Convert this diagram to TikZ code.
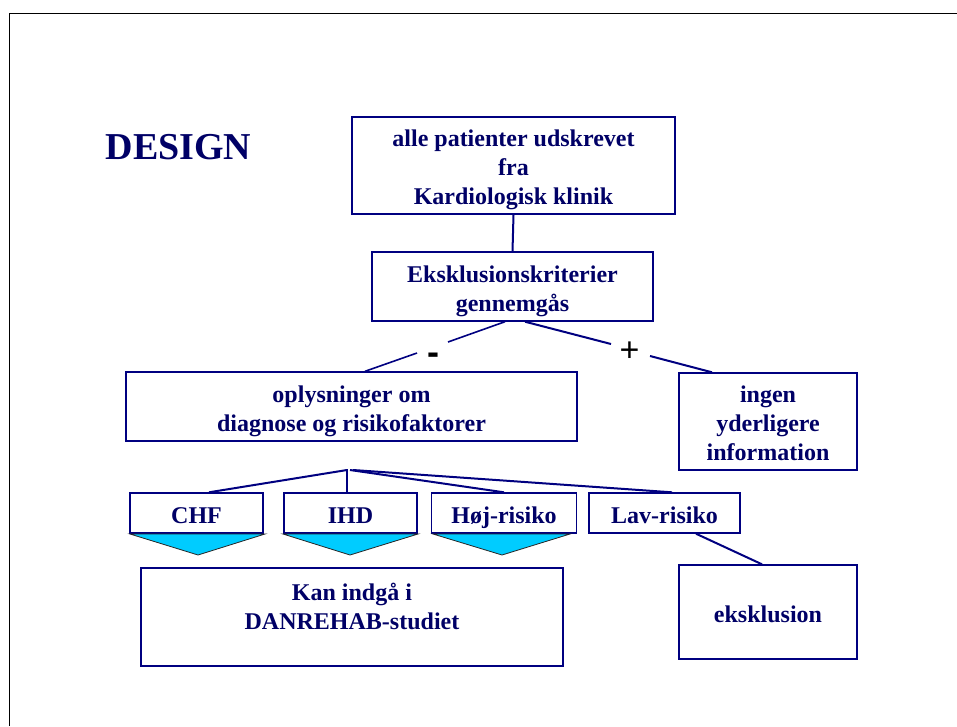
\documentclass[tikz,border=0pt]{standalone}
\usepackage{fontspec}
\setmainfont{Liberation Serif}
\newfontfamily\arialf{Liberation Sans}
\definecolor{navy}{HTML}{000080}
\definecolor{tnavy}{HTML}{000066}
\definecolor{cyanf}{HTML}{00CCFF}
\newcommand{\tstrut}{\rule[-5.5pt]{0pt}{31.5pt}}
\newcommand{\bstrut}{\rule[-5.5pt]{0pt}{5.5pt}}
\begin{document}
\begin{tikzpicture}[x=1pt,y=-1pt,
  box/.style={draw=navy,line width=1.4pt,inner sep=0pt,text=tnavy,align=center,
    font=\bfseries\fontsize{24}{29}\selectfont},
  conn/.style={draw=navy,line width=2pt},
  tri/.style={fill=cyanf,draw=black!85,line width=0.8pt,line join=miter},
  sign/.style={text=black,inner sep=0pt}]
\useasboundingbox (0,0) rectangle (957,726);
% frame
\coordinate (fA) at (9,726);
\coordinate (fB) at (9,13);
\coordinate (fC) at (957,13);
\draw[black,line width=1pt] (fA) -- (fB) -- (fC);
% title
\node[text=tnavy,font=\bfseries\fontsize{38}{42}\selectfont,inner sep=0pt,anchor=base] (title) at (178.5,159) {DESIGN};
% boxes
\node[box,minimum width=323,minimum height=97] (b1) at (513.5,165.5) {\tstrut alle patienter udskrevet\\fra\\Kardiologisk klinik\bstrut};
\node[box,minimum width=281,minimum height=69] (b2) at (512.5,286.5) {\tstrut Eksklusionskriterier\\gennemgås\bstrut};
\node[box,minimum width=451,minimum height=69] (b3) at (351.5,406.5) {\tstrut oplysninger om\\diagnose og risikofaktorer\bstrut};
\node[box,minimum width=178,minimum height=97] (b4) at (768,421.5) {\tstrut ingen\\yderligere\\information\bstrut};
\node[box,minimum width=133,minimum height=40] (chf) at (196.5,513) {\tstrut CHF};
\node[box,minimum width=133,minimum height=40] (ihd) at (350.5,513) {\tstrut IHD};
\node[box,minimum width=145,minimum height=40] (hoj) at (504,513) {\tstrut Høj-risiko};
\node[box,minimum width=151,minimum height=40] (lav) at (664.5,513) {\tstrut Lav-risiko};
\node[box,minimum width=422,minimum height=98] (kan) at (352,617) {};
\node[text=tnavy,align=center,inner sep=0pt,font=\bfseries\fontsize{24}{29}\selectfont] (kantxt) at (352,604.5) {\tstrut Kan indgå i\\DANREHAB-studiet\bstrut};
\node[box,minimum width=178,minimum height=94] (eks) at (768,612) {\tstrut eksklusion};
% triangles
\coordinate (t1a) at (130,534); \coordinate (t1b) at (265,534); \coordinate (t1c) at (198,555);
\coordinate (t2a) at (283,534); \coordinate (t2b) at (418,534); \coordinate (t2c) at (350,555);
\coordinate (t3a) at (433,534); \coordinate (t3b) at (570,534); \coordinate (t3c) at (502,555);
\draw[tri] (t1a) -- (t1b) -- (t1c) -- cycle;
\draw[tri] (t2a) -- (t2b) -- (t2c) -- cycle;
\draw[tri] (t3a) -- (t3b) -- (t3c) -- cycle;
% connectors
\draw[conn] (b1.south) -- (b2.north);
\coordinate (m1) at (448,342);
\coordinate (m2) at (417,353);
\node[sign,font=\arialf\bfseries\fontsize{36}{40}\selectfont] (minus) at (433,359) {-};
\draw[conn,line width=1.6pt] ([xshift=-7.5]b2.south) -- (m1);
\draw[conn,line width=1.6pt] (m2) -- ([xshift=13.5]b3.north);
\coordinate (p1) at (611,344);
\coordinate (p2) at (650,356);
\node[sign,font=\arialf\fontsize{34}{38}\selectfont] (plus) at (629.5,351.5) {+};
\draw[conn] ([xshift=12.5]b2.south) -- (p1);
\draw[conn] (p2) -- ([xshift=-56]b4.north);
\coordinate (fan) at (347,470);
\draw[conn] (fan) -- ([xshift=12.5]chf.north);
\draw[conn] ([yshift=1]fan) -- ([xshift=-3.5]ihd.north);
\draw[conn] ([xshift=3]fan) -- (hoj.north);
\draw[conn] ([xshift=6]fan) -- ([xshift=7.5]lav.north);
\draw[conn] ([xshift=31.5]lav.south) -- ([xshift=-6]eks.north);
\end{tikzpicture}
\end{document}
